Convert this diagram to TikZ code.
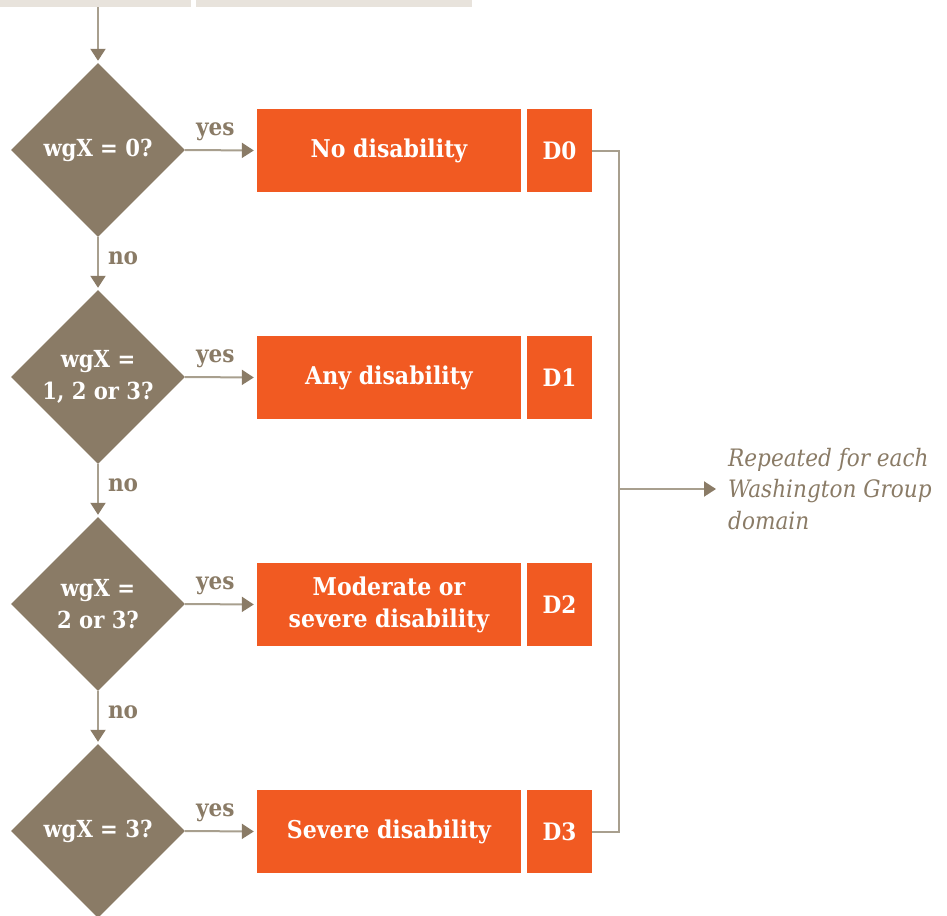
\documentclass[tikz,border=0pt]{standalone}
\usepackage{fontspec}
\setmainfont{DejaVu Serif Condensed}
\usetikzlibrary{shapes.geometric,arrows.meta}
\definecolor{taupe}{HTML}{8A7B66}
\definecolor{linec}{HTML}{A89F8E}
\definecolor{orng}{HTML}{F15A22}
\definecolor{barc}{HTML}{E8E3DC}
\tikzset{
  x=1pt,y=-1pt,
  decision/.style={diamond,aspect=1,fill=taupe,draw=none,minimum width=174pt,minimum height=174pt,inner sep=0pt,text=white,align=center,font=\bfseries\fontsize{23.5}{32}\selectfont},
  outcome/.style={rectangle,fill=orng,draw=none,minimum width=264pt,minimum height=83pt,inner sep=0pt,text=white,align=center,font=\bfseries\fontsize{24.5}{32}\selectfont},
  code/.style={rectangle,fill=orng,draw=none,minimum width=65pt,minimum height=83pt,inner sep=0pt,text=white,font=\bfseries\fontsize{24}{30}\selectfont},
  flow/.style={draw=linec,line width=2pt,-{Triangle[width=15pt,length=12pt,color=taupe]}},
  bus/.style={draw=linec,line width=2pt},
  lbl/.style={text=taupe,font=\bfseries\fontsize{24}{30}\selectfont,inner sep=0pt},
  bar/.style={rectangle,fill=barc,draw=none,inner sep=0pt,minimum height=7pt}
}
\begin{document}
\begin{tikzpicture}
\useasboundingbox (0,0) rectangle (947,915);
\node[bar,minimum width=191pt] (bar1) at (95.5,3.5) {};
\node[bar,minimum width=276pt] (bar2) at (334,3.5) {};

\node[decision] (d1) at (98,150) {wgX = 0?};
\node[decision] (d2) at (98,377) {wgX =\\1, 2 or 3?};
\node[decision] (d3) at (98,604) {wgX =\\2 or 3?};
\node[decision] (d4) at (98,831) {wgX = 3?};

\node[outcome] (o1) at (389,150.5) {No disability};
\node[outcome] (o2) at (389,377.5) {Any disability};
\node[outcome] (o3) at (389,604.5) {Moderate or\\severe disability};
\node[outcome] (o4) at (389,831.5) {Severe disability};

\node[code] (c1) at (559.5,150.5) {D0};
\node[code] (c2) at (559.5,377.5) {D1};
\node[code] (c3) at (559.5,604.5) {D2};
\node[code] (c4) at (559.5,831.5) {D3};

\draw[flow,shorten >=2pt] (d1.north |- bar1.south) -- (d1.north);
\draw[flow,shorten >=2pt] (d1.south) -- node[lbl,right=9pt,pos=0.4] {no} (d2.north);
\draw[flow,shorten >=2pt] (d2.south) -- node[lbl,right=9pt,pos=0.4] {no} (d3.north);
\draw[flow,shorten >=2pt] (d3.south) -- node[lbl,right=9pt,pos=0.4] {no} (d4.north);

\foreach \i in {1,2,3,4}{
  \draw[flow,shorten >=3pt] (d\i.east) -- node[lbl,above=8pt,pos=0.42] {yes} (o\i.west);
}

\coordinate (bx) at (619,489);
\draw[bus] (c1.east) -| (c4.east -| bx) -- (c4.east);
\node[text=taupe,font=\itshape\fontsize{24}{31.5}\selectfont,align=left,anchor=west,inner sep=0pt] (note) at (728,489) {Repeated for each\\Washington Group\\domain};
\draw[flow,shorten >=12pt] (bx) -- (note.west);
\end{tikzpicture}
\end{document}
